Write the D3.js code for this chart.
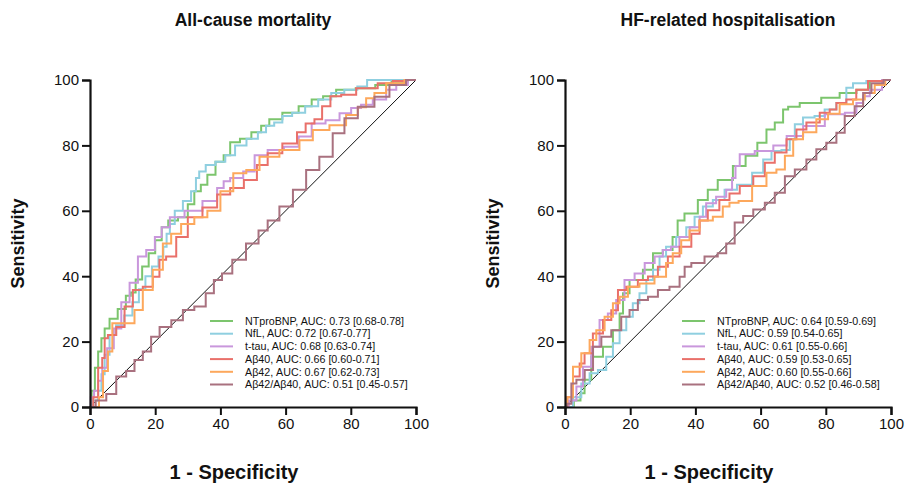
<!DOCTYPE html>
<html>
<head>
<meta charset="utf-8">
<script src="https://cdn.jsdelivr.net/npm/d3@7"></script>
<style>
  body { margin: 0; background: #fff; }
  text { font-family: "Liberation Sans", Arial, sans-serif; fill: #111; }
  .title { font-weight: bold; font-size: 17.5px; }
  .axis-title { font-weight: bold; font-size: 18px; }
  .x-title { font-size: 20px; }
  .tick text { font-size: 15px; }
  .legend text { font-size: 10.7px; }
</style>
</head>
<body>
<svg id="chart" width="905" height="487"></svg>
<script>
// series names + colours (same in both panels)
const markers = ["NTproBNP", "NfL", "t-tau", "Aβ40", "Aβ42", "Aβ42/Aβ40"];
const colors = ["#7cc56d", "#8fcfe0", "#c997dc", "#e9706a", "#fda85c", "#a9717f"];
const ticks = [0, 20, 40, 60, 80, 100];

const mortalityAUC = [
  "0.73 [0.68-0.78]", "0.72 [0.67-0.77]", "0.68 [0.63-0.74]",
  "0.66 [0.60-0.71]", "0.67 [0.62-0.73]", "0.51 [0.45-0.57]"
];
const hfAUC = [
  "0.64 [0.59-0.69]", "0.59 [0.54-0.65]", "0.61 [0.55-0.66]",
  "0.59 [0.53-0.65]", "0.60 [0.55-0.66]", "0.52 [0.46-0.58]"
];

// ROC points [1-specificity, sensitivity]
const mortNTproBNP = [[0,0],[1,5],[2,12],[3,17],[4,21],[5,24],[7,27],[10,30],[12,34],[13,35],[15,39],[17,43],[19,47],[21,51],[23,55],[25,57],[29,58],[31,62],[33,66],[35,68],[37,71],[40,75],[42,77],[44,81],[48,82],[51,84],[54,86],[56,88],[62,90],[66,92],[70,94],[73,95],[78,97],[85,97.5],[90,98.5],[95,99.5],[100,100]];
const mortNfL = [[0,0],[2,2],[3,5],[4,10],[5,16],[7,22],[9,25],[12,28],[14,32],[16,36],[18,40],[20,43],[22,46],[23,49],[24,53],[25,56],[27,60],[30,63],[32,66],[33,70],[34,72],[37,74],[40,75],[43,77],[46,80],[50,82],[53,84],[55,86],[58,87],[60,89],[64,90],[68,92],[72,94],[76,96],[80,97],[84,98],[86,100],[100,100]];
const mortTtau = [[0,0],[0.5,3],[2,5],[3,8],[4.5,12],[6,18],[8.6,24],[10.6,32],[13.7,38],[15.7,46],[18.8,48],[21,52],[23,55],[26,58],[32,60],[37,63],[41,67],[41,69],[45,70],[49,72],[52,77],[57,78.6],[62,79.6],[66,82.7],[70,86.7],[74.5,87.7],[78.6,89.8],[81.6,91.4],[84.7,92.4],[88.8,94],[92.9,97],[95,98.5],[100,100]];
const mortAb40 = [[0,0],[2,3],[3,12],[4.5,15],[4.5,21],[6.5,22],[9.6,24.5],[11.6,30.7],[14.7,35.8],[17.7,36.8],[20.8,39.8],[21.8,45],[24.9,46],[28,52],[32,58],[37,61],[41,65],[45,67],[49.4,69.4],[53,74],[56,77.6],[62,80.6],[65,84],[67.3,86.7],[70.4,88],[72,92],[75.5,95],[78.6,95.5],[84.7,97.5],[91.8,99],[94,99.7],[100,100]];
const mortAb42 = [[0,0],[2,0],[3.5,3],[4.5,11],[6.5,17],[7.2,25.6],[12.6,25.6],[14.7,29.7],[17.7,35.8],[20.8,42],[23.9,50],[25.9,53],[30,56],[34,58],[38,60],[42,66],[45.9,71.5],[50,72.5],[54,76.5],[62.2,78.6],[66.3,81.6],[70.4,84.7],[76.5,86.2],[80.6,89.3],[83.7,91.7],[85.7,94.4],[88.8,96],[92.9,99],[100,100]];
const mortRatio = [[0,0],[3.5,2],[6.5,4],[9.6,9.3],[12.6,11],[14.7,14.4],[17.7,17],[19.8,21.5],[22.9,24.5],[27,26.5],[30,29.7],[34,30.7],[37,34.8],[39,38.8],[42,40.8],[45.3,45],[50.4,50],[53,54],[56,57],[60.2,61.3],[64.3,66.4],[68.3,72.5],[72.4,76.5],[76.5,83.7],[79.6,88.3],[84.7,91.8],[89.8,94.9],[93.9,98.5],[100,100]];

const hfNTproBNP = [[0,0],[1.4,0],[4,2],[5.5,4.2],[6.5,8.3],[9.6,15.4],[13.7,18.4],[15.7,23.5],[17.8,28.6],[17.8,34.8],[21.8,38.8],[26,42],[28,47],[32,48],[34,52],[35.1,57],[38.2,59.2],[43.3,63.3],[44.3,66.4],[49.4,69.4],[53.6,73.7],[57.2,76.8],[60.8,80.8],[62.8,84.9],[65.9,87],[67.9,91],[69,91.8],[75,93],[82.2,94.6],[86.3,96],[92.5,97],[94.5,99.7],[100,100]];
const hfNfL = [[0,0],[1.4,0],[3.5,3],[6.5,7.2],[8.6,10.3],[11.6,11.3],[13.7,15.4],[15.7,19.5],[17.8,23.5],[19.8,27.6],[21.8,31.7],[23.9,34.8],[26,38.8],[28,42],[30,46],[32,49],[36.2,52],[38.2,55],[41.3,58.2],[43.3,61.3],[47.4,63.3],[50.5,66.4],[55,68],[59.8,71.6],[61.8,75.7],[64.9,78.3],[67.9,78.6],[70,81.9],[71,86.5],[75,88.5],[78.1,89],[81.2,91],[85.3,93],[87.3,97.6],[89.4,99],[95.5,99.7],[100,100]];
const hfTtau = [[0,0],[2.5,2],[4.5,6.3],[6.5,12.3],[9.6,18.4],[11.6,26.6],[14.7,28.6],[16.7,32.7],[19.8,38.8],[22.9,40.8],[26,44],[29,46],[31,48],[34,49],[36.2,52],[40.3,55],[42.3,58.2],[44.3,62.3],[48.4,64.3],[50.5,66.4],[52,70],[52.6,73.7],[54.6,77.3],[61.8,78.3],[66,80],[70,82.9],[76.1,85.9],[83.3,89.5],[88.4,90],[90.4,93],[92.5,95],[94.5,97],[100,100]];
const hfAb40 = [[0,0],[1.4,3],[3.5,9.3],[5.5,13.3],[6.5,16.4],[10.6,22.5],[12.7,26.6],[15.7,29.6],[16.8,35.8],[20.8,36.8],[23.9,38.8],[27,39.9],[30,42.9],[33.1,46],[37.2,49],[40.3,53],[42.3,57],[45.3,60.2],[49.4,63.3],[51.5,65.3],[55.7,67.6],[59.8,70.6],[62.8,74.7],[65.9,77.8],[70,81.9],[72,84.9],[76.1,87],[80.2,90],[82.2,91],[84.3,93],[88.3,94],[90.4,97],[95.5,99.7],[100,100]];
const hfAb42 = [[0,0],[1.4,3],[3.5,12.3],[6.5,16.4],[8.6,20.5],[10.6,23.5],[13.7,27.6],[15.7,31.7],[17.8,33.7],[20.8,36.8],[24.9,37.8],[30,39.8],[32,44],[34.1,47],[37.2,51],[39.2,54],[43.3,57],[47.4,58.2],[49.4,61.3],[51.5,62.5],[55,63],[59.8,67.6],[63.8,71.6],[65.9,72.6],[69,76.8],[71,81.9],[75,84],[79.2,88],[82.2,89.7],[86.3,92.6],[90.4,94],[93.5,96],[96.5,98.5],[100,100]];
const hfRatio = [[0,0],[1.4,1],[2.5,7.2],[4.5,8.3],[7.6,11.3],[9.6,18.4],[12.7,21.5],[15.7,23.5],[18.8,27.6],[20.8,29.7],[23.9,32.7],[27,33.7],[30,35.8],[34.1,36.8],[36.2,39.8],[37.2,42.9],[40.3,44],[45.3,46],[48.4,47],[50.5,50],[53.6,56.4],[55.7,58.4],[59.8,60.4],[62.8,62.5],[65.9,65.5],[69,70.6],[72,72.6],[76.1,75.7],[78.1,78.8],[82.2,80.8],[84.3,83.9],[87.3,89],[90.4,92],[92.5,96],[95.5,99],[100,100]];

const panels = [
  { title: "All-cause mortality", left: 90, auc: mortalityAUC, legendX: 210,
    series: [mortNTproBNP, mortNfL, mortTtau, mortAb40, mortAb42, mortRatio] },
  { title: "HF-related hospitalisation", left: 565, auc: hfAUC, legendX: 682,
    series: [hfNTproBNP, hfNfL, hfTtau, hfAb40, hfAb42, hfRatio] }
];

const svg = d3.select("#chart");
const plotW = 326, plotTop = 80, plotBottom = 407;
const y = d3.scaleLinear().domain([0, 100]).range([plotBottom, plotTop]);

panels.forEach(p => {
  const x = d3.scaleLinear().domain([0, 100]).range([p.left, p.left + plotW]);
  const g = svg.append("g");

  const stepLine = d3.line()
    .x(d => x(d[0]))
    .y(d => y(d[1]))
    .curve(d3.curveStep);
  const straight = d3.line()
    .x(d => x(d[0]))
    .y(d => y(d[1]));

  // chance line
  g.append("path")
    .attr("d", straight([[0, 0], [100, 100]]))
    .attr("stroke", "#111").attr("stroke-width", 1).attr("fill", "none");

  p.series.forEach((s, i) => {
    g.append("path")
      .attr("d", stepLine(s))
      .attr("fill", "none")
      .attr("stroke", colors[i])
      .attr("stroke-width", 2);
  });

  const xAxis = g.append("g")
    .attr("transform", `translate(0,${plotBottom})`)
    .call(d3.axisBottom(x).tickValues(ticks).tickSize(8).tickPadding(3));
  const yAxis = g.append("g")
    .attr("transform", `translate(${p.left},0)`)
    .call(d3.axisLeft(y).tickValues(ticks).tickSize(8).tickPadding(3));
  [xAxis, yAxis].forEach(a => {
    a.select(".domain").attr("stroke", "#111").attr("stroke-width", 2.2);
    a.selectAll(".tick line").attr("stroke", "#111").attr("stroke-width", 2);
    a.selectAll(".tick text").attr("fill", "#111");
  });

  g.append("text").attr("class", "title")
    .attr("x", p.left + plotW / 2).attr("y", 26)
    .attr("text-anchor", "middle").text(p.title);
  g.append("text").attr("class", "axis-title x-title")
    .attr("x", p.left + plotW / 2 - 19).attr("y", 479)
    .attr("text-anchor", "middle").text("1 - Specificity");
  g.append("text").attr("class", "axis-title")
    .attr("transform", `translate(${p.left - 66},${(plotTop + plotBottom) / 2}) rotate(-90)`)
    .attr("text-anchor", "middle").text("Sensitivity");

  const leg = g.append("g").attr("class", "legend");
  markers.forEach((m, i) => {
    const ly = 321 + i * 12.7;
    leg.append("line")
      .attr("x1", p.legendX).attr("x2", p.legendX + 23)
      .attr("y1", ly).attr("y2", ly)
      .attr("stroke", colors[i]).attr("stroke-width", 2);
    leg.append("text")
      .attr("x", p.legendX + 35).attr("y", ly + 3.7)
      .text(`${m}, AUC: ${p.auc[i]}`);
  });
});
</script>
</body>
</html>
